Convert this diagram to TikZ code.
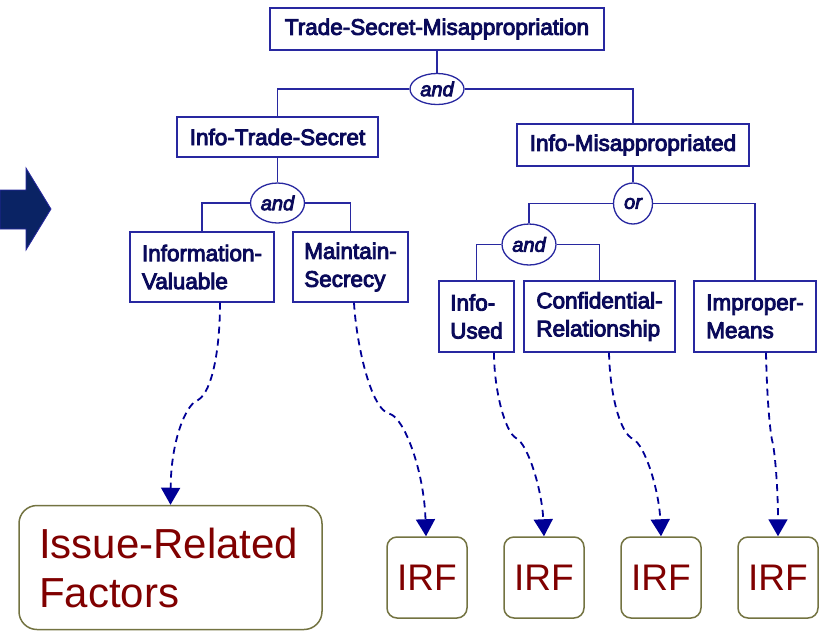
\documentclass[tikz,border=0pt]{standalone}
\usepackage{fontspec}
\setmainfont{Liberation Sans}
\newfontfamily\boxfont[FakeBold=4]{Liberation Sans}
\usetikzlibrary{shapes.geometric,arrows.meta}
\definecolor{ln}{RGB}{40,40,160}
\definecolor{tx}{RGB}{10,10,90}
\definecolor{dsh}{RGB}{0,0,150}
\definecolor{olv}{RGB}{115,115,65}
\definecolor{irf}{RGB}{128,0,0}
\definecolor{arrfill}{RGB}{10,35,100}
\begin{document}
\begin{tikzpicture}[x=1pt,y=-1pt,
 goal/.style={draw=ln, line width=1.3pt, fill=white, text=tx, font=\boxfont\fontsize{22.5}{28}\selectfont, inner sep=0pt, align=left},
 conn/.style={ellipse, draw=ln, line width=1.3pt, fill=white, text=tx, font=\boxfont\itshape\fontsize{20}{24}\selectfont, inner sep=0pt},
 wire/.style={draw=ln, line width=1.3pt},
 factor/.style={draw=olv, line width=1.5pt, rounded corners=10pt, text=irf, inner sep=0pt},
 dep/.style={draw=dsh, line width=1.8pt, dash pattern=on 7pt off 5pt, -{Triangle[width=19pt,length=17pt]}}
]
\useasboundingbox (0,0) rectangle (820,630);

% big arrow
\filldraw[fill=arrfill, draw=ln, line width=0.8pt] (0,190) -- (26,190) -- (26,168) -- (51,209) -- (26,250) -- (26,229) -- (0,229) -- cycle;

% goal tree
\node[goal, minimum width=334pt, minimum height=42pt] (tsm) at (437,29) {Trade-Secret-Misappropriation};
\node[conn, minimum width=54pt, minimum height=31pt] (and1) at (437,89) {and};
\node[goal, minimum width=201pt, minimum height=40pt] (its) at (277.5,137) {Info-Trade-Secret};
\node[goal, minimum width=232pt, minimum height=42pt] (im) at (633,145) {Info-Misappropriated};
\node[conn, minimum width=54pt, minimum height=40pt] (and2) at (277.5,203) {and};
\node[conn, minimum width=39pt, minimum height=41pt] (or) at (633,203.5) {or};
\node[goal, minimum width=144pt, minimum height=70pt] (iv) at (202,267) {Information-\\Valuable};
\node[goal, minimum width=115pt, minimum height=70pt] (ms) at (350.5,267) {Maintain-\\Secrecy};
\node[conn, minimum width=54pt, minimum height=41pt] (and3) at (529,244.5) {and};
\node[goal, minimum width=75pt, minimum height=71pt] (iu) at (476.5,316.5) {Info-\\Used};
\node[goal, minimum width=151pt, minimum height=71pt] (cr) at (599.5,316.5) {Confidential-\\Relationship};
\node[goal, minimum width=122pt, minimum height=71pt] (imp) at (755,316.5) {Improper-\\Means};

\draw[wire] (tsm.south) -- (and1.north);
\draw[wire] (and1.west) -| (its.north);
\draw[wire] (and1.east) -| (im.north);
\draw[wire] (its.south) -- (and2.north);
\draw[wire] (and2.west) -| (iv.north);
\draw[wire] (and2.east) -| (ms.north);
\draw[wire] (im.south) -- (or.north);
\draw[wire] (or.west) -| (and3.north);
\draw[wire] (or.east) -| (imp.north);
\draw[wire] (and3.west) -| (iu.north);
\draw[wire] (and3.east) -| (cr.north);

% factors
\node[factor, rounded corners=18pt, minimum width=303pt, minimum height=124pt, text width=263pt, align=left, font=\fontsize{42}{49}\selectfont] (irf0) at (170.5,567.5) {Issue-Related\\Factors};
\node[factor, minimum width=80pt, minimum height=81pt, font=\fontsize{37}{44}\selectfont] (irf1) at (427,577.5) {IRF};
\node[factor, minimum width=80pt, minimum height=81pt, font=\fontsize{37}{44}\selectfont] (irf2) at (544,577.5) {IRF};
\node[factor, minimum width=80pt, minimum height=81pt, font=\fontsize{37}{44}\selectfont] (irf3) at (661,577.5) {IRF};
\node[factor, minimum width=80pt, minimum height=81pt, font=\fontsize{37}{44}\selectfont] (irf4) at (778,577.5) {IRF};

% dashed links
\coordinate (k0) at (198,400);
\coordinate (k1) at (390,414);
\coordinate (k2) at (516,438);
\coordinate (k3) at (633,439);
\coordinate (k4) at (772,440);
\draw[dep] ([xshift=18pt]iv.south) .. controls (220,350) and (212,392) .. (k0) .. controls (186,404) and (171,440) .. (irf0.north);
\draw[dep] ([xshift=3.5pt]ms.south) .. controls (356,340) and (370,410) .. (k1) .. controls (404,418) and (424,470) .. ([xshift=-1pt]irf1.north);
\draw[dep] ([xshift=17.5pt]iu.south) .. controls (494,390) and (505,432) .. (k2) .. controls (528,444) and (542,490) .. (irf2.north);
\draw[dep] ([xshift=9.5pt]cr.south) .. controls (610,395) and (620,433) .. (k3) .. controls (645,445) and (659,490) .. (irf3.north);
\draw[dep] ([xshift=11pt]imp.south) .. controls (767,400) and (770,430) .. (k4) .. controls (775,450) and (778,490) .. (irf4.north);
\end{tikzpicture}
\end{document}
